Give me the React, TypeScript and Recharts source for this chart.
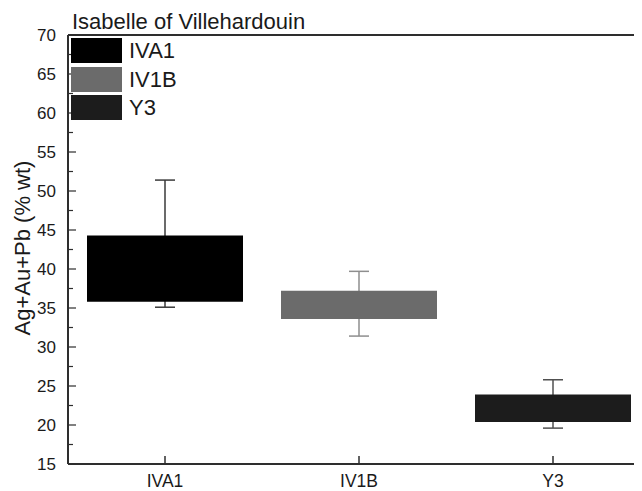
import React from "react";
import { BarChart, Bar, XAxis, YAxis, Cell, ReferenceLine } from "recharts";

const categories = ["IVA1", "IV1B", "Y3"];
const boxLow = [35.8, 33.6, 20.4];
const boxHigh = [44.3, 37.2, 23.9];
const whiskerLow = [35.1, 31.4, 19.6];
const whiskerHigh = [51.4, 39.7, 25.8];
const yTicks = [15, 17.5, 20, 22.5, 25, 27.5, 30, 32.5, 35, 37.5, 40, 42.5, 45, 47.5, 50, 52.5, 55, 57.5, 60, 62.5, 65, 67.5, 70];

const boxFills = ["#000000", "#6b6b6b", "#1c1c1c"];
const whiskerColors = ["#3a3a3a", "#8e8e8e", "#505050"];
const FONT = "'Liberation Sans', Arial, sans-serif";
const AXIS = "#2e2e2e";

const data = categories.map((name, i) => ({
  name,
  box: [boxLow[i], boxHigh[i]],
  whisker: [whiskerLow[i], whiskerHigh[i]],
}));

function YTick({ x, y, payload }: any) {
  const major = payload.value % 5 === 0;
  return (
    <g>
      <line x1={x} x2={x + (major ? 8 : 5)} y1={y} y2={y} stroke={AXIS} strokeWidth={1.2} />
      {major && (
        <text x={x - 12} y={y} dy="0.36em" textAnchor="end" fontSize={17} fill="#1a1a1a" fontFamily={FONT}>
          {payload.value}
        </text>
      )}
    </g>
  );
}

function XTick({ x, y, payload }: any) {
  return (
    <g>
      <line x1={x} x2={x} y1={y} y2={y - 8} stroke={AXIS} strokeWidth={1.5} />
      <text x={x} y={y + 23} textAnchor="middle" fontSize={17.5} fill="#1a1a1a" fontFamily={FONT}>
        {payload.value}
      </text>
    </g>
  );
}

function Whisker(props: any) {
  const { x, y, width, height, index } = props;
  const cx = x + width / 2;
  const c = whiskerColors[index];
  return (
    <g>
      <line x1={cx} x2={cx} y1={y} y2={y + height} stroke={c} strokeWidth={1.5} />
      <line x1={cx - 10} x2={cx + 10} y1={y} y2={y} stroke={c} strokeWidth={1.5} />
      <line x1={cx - 10} x2={cx + 10} y1={y + height} y2={y + height} stroke={c} strokeWidth={1.5} />
    </g>
  );
}

export default function App() {
  return (
    <div style={{ position: "relative", width: 634, height: 483, overflow: "hidden", fontFamily: FONT }}>
      <BarChart
        width={642}
        height={483}
        data={data}
        margin={{ top: 27, right: 0, bottom: 0, left: 0 }}
        barCategoryGap={19}
      >
        <XAxis xAxisId="w" dataKey="name" hide />
        <XAxis
          xAxisId="box"
          dataKey="name"
          height={27}
          tickSize={0}
          tickMargin={0}
          tickLine={false}
          axisLine={{ stroke: AXIS, strokeWidth: 2 }}
          tick={<XTick />}
        />
        <YAxis
          domain={[15, 70]}
          ticks={yTicks}
          interval={0}
          allowDataOverflow
          width={60}
          tickSize={0}
          tickMargin={0}
          tickLine={false}
          axisLine={{ stroke: AXIS, strokeWidth: 2 }}
          tick={<YTick />}
        />
        <ReferenceLine xAxisId="box" y={70} stroke={AXIS} strokeWidth={2} />
        <Bar xAxisId="w" dataKey="whisker" isAnimationActive={false} shape={<Whisker />} />
        <Bar xAxisId="box" dataKey="box" isAnimationActive={false}>
          {data.map((d, i) => (
            <Cell key={d.name} fill={boxFills[i]} />
          ))}
        </Bar>
      </BarChart>

      {/* y-axis title */}
      <div
        style={{
          position: "absolute",
          left: 15,
          top: 240,
          transform: "translate(-50%, -50%) rotate(-90deg)",
          fontSize: 22,
          lineHeight: "22px",
          color: "#1a1a1a",
          whiteSpace: "nowrap",
        }}
      >
        Ag+Au+Pb (% wt)
      </div>

      <div
        style={{
          position: "absolute",
          left: 64,
          top: 3,
          fontSize: 22,
          lineHeight: "22px",
          color: "#1a1a1a",
          whiteSpace: "nowrap",
        }}
      >
        Isabelle of Villehardouin
      </div>

      <div style={{ position: "absolute", left: 63, top: 30, display: "flex", flexDirection: "column", gap: 3.5 }}>
        {categories.map((c, i) => (
          <div key={c} style={{ display: "flex", alignItems: "center", height: 25 }}>
            <span style={{ width: 51, height: 25, background: boxFills[i], display: "inline-block" }} />
            <span style={{ marginLeft: 7, fontSize: 22, color: "#1a1a1a", lineHeight: "25px" }}>{c}</span>
          </div>
        ))}
      </div>
    </div>
  );
}
